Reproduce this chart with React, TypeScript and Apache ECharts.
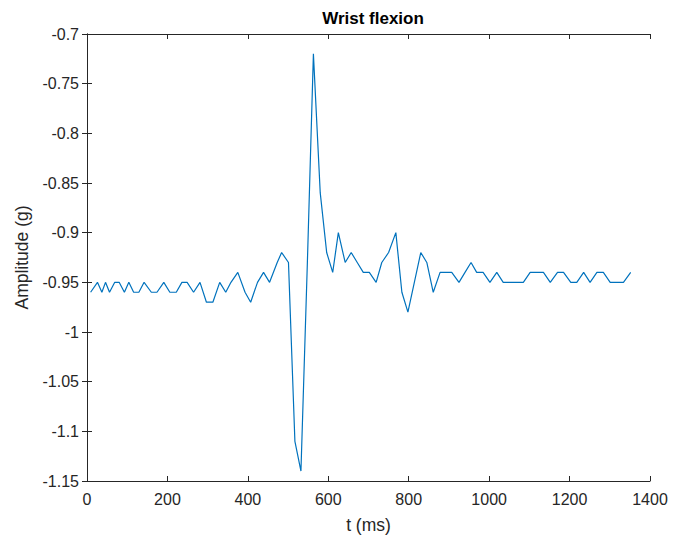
import React, { useEffect, useRef } from "react";
import * as echarts from "echarts";

// Sample times (ms)
const timeMs = [
  9, 26, 37, 46, 56, 69, 80, 93, 104, 116, 129, 142,
  160, 174, 191, 206, 222, 236, 249, 265, 281, 297,
  313, 330, 345, 358, 375, 393, 407, 424, 439, 454,
  473, 484, 501, 517, 532, 548, 563, 580, 596, 611,
  625, 642, 657, 672, 687, 702, 719, 733, 750, 768,
  783, 798, 814, 830, 845, 861, 878, 893, 907, 925,
  940, 955, 969, 985, 1002, 1019, 1035, 1052, 1069, 1085,
  1102, 1119, 1135, 1152, 1170, 1185, 1203, 1218, 1235, 1251,
  1268, 1284, 1301, 1318, 1334, 1352,
];

// Amplitude (g) at each sample
const amplitudeG = [
  -0.96, -0.95, -0.96, -0.95, -0.96, -0.95, -0.95, -0.96, -0.95, -0.96, -0.96, -0.95,
  -0.96, -0.96, -0.95, -0.96, -0.96, -0.95, -0.95, -0.96, -0.95, -0.97,
  -0.97, -0.95, -0.96, -0.95, -0.94, -0.96, -0.97, -0.95, -0.94, -0.95,
  -0.93, -0.92, -0.93, -1.11, -1.14, -0.93, -0.72, -0.86, -0.92, -0.94,
  -0.9, -0.93, -0.92, -0.93, -0.94, -0.94, -0.95, -0.93, -0.92, -0.9,
  -0.96, -0.98, -0.95, -0.92, -0.93, -0.96, -0.94, -0.94, -0.94, -0.95,
  -0.94, -0.93, -0.94, -0.94, -0.95, -0.94, -0.95, -0.95, -0.95, -0.95,
  -0.94, -0.94, -0.94, -0.95, -0.94, -0.94, -0.95, -0.95, -0.94, -0.95,
  -0.94, -0.94, -0.95, -0.95, -0.95, -0.94,
];

const xRange = { min: 0, max: 1400, step: 200 };
const yRange = { min: -1.15, max: -0.7, step: 0.05 };

const chartTitle = "Wrist flexion";
const xTitle = "t (ms)";
const yTitle = "Amplitude (g)";

const FONT = "'Liberation Sans', Arial, Helvetica, sans-serif";
const AXIS_COLOR = "#262626";
const LINE_COLOR = "#0072BD";

export default function App() {
  const ref = useRef<HTMLDivElement>(null);

  useEffect(() => {
    if (!ref.current) return;
    const chart = echarts.init(ref.current, null, { renderer: "svg" });
    const fmtY = (v: number) => String(Number(v.toFixed(2)));
    const fmtX = (v: number) => String(Math.round(v));
    const axisLine = { show: true, lineStyle: { color: AXIS_COLOR, width: 1 } };
    const tick = { show: true, inside: true, length: 5, lineStyle: { color: AXIS_COLOR, width: 1 } };
    const label = { color: AXIS_COLOR, fontFamily: FONT, fontSize: 16 };

    const data = timeMs.map((t, i) => [t, amplitudeG[i]]);

    chart.setOption({
      animation: false,
      backgroundColor: "#ffffff",
      title: {
        text: chartTitle,
        left: 368,
        top: 5,
        textAlign: "center",
        textStyle: { fontFamily: FONT, fontSize: 17, fontWeight: "bold", color: "#000" },
      },
      grid: { left: 87, top: 34, right: 35, bottom: 57, containLabel: false },
      xAxis: [
        {
          type: "value",
          position: "bottom",
          min: xRange.min,
          max: xRange.max,
          interval: xRange.step,
          axisLine,
          axisTick: tick,
          axisLabel: { ...label, margin: 10, formatter: fmtX },
          splitLine: { show: false },
          name: xTitle,
          nameLocation: "middle",
          nameGap: 35,
          nameTextStyle: { fontFamily: FONT, fontSize: 17.5, color: AXIS_COLOR },
        },
        {
          type: "value",
          position: "top",
          min: xRange.min,
          max: xRange.max,
          interval: xRange.step,
          axisLine,
          axisTick: tick,
          axisLabel: { show: false },
          splitLine: { show: false },
        },
      ],
      yAxis: [
        {
          type: "value",
          position: "left",
          min: yRange.min,
          max: yRange.max,
          interval: yRange.step,
          axisLine,
          axisTick: tick,
          axisLabel: { ...label, margin: 8, formatter: fmtY },
          splitLine: { show: false },
          name: yTitle,
          nameLocation: "middle",
          nameGap: 56,
          nameTextStyle: { fontFamily: FONT, fontSize: 17.5, color: AXIS_COLOR },
        },
        {
          type: "value",
          position: "right",
          min: yRange.min,
          max: yRange.max,
          interval: yRange.step,
          axisLine,
          axisTick: tick,
          axisLabel: { show: false },
          splitLine: { show: false },
        },
      ],
      series: [
        {
          type: "line",
          data,
          xAxisIndex: 0,
          yAxisIndex: 0,
          showSymbol: false,
          symbol: "none",
          lineStyle: { color: LINE_COLOR, width: 1.2 },
        },
      ],
    });
    return () => chart.dispose();
  }, []);

  return (
    <div
      ref={ref}
      style={{ position: "absolute", left: 0, top: 0, width: 685, height: 539, background: "#fff" }}
    />
  );
}
